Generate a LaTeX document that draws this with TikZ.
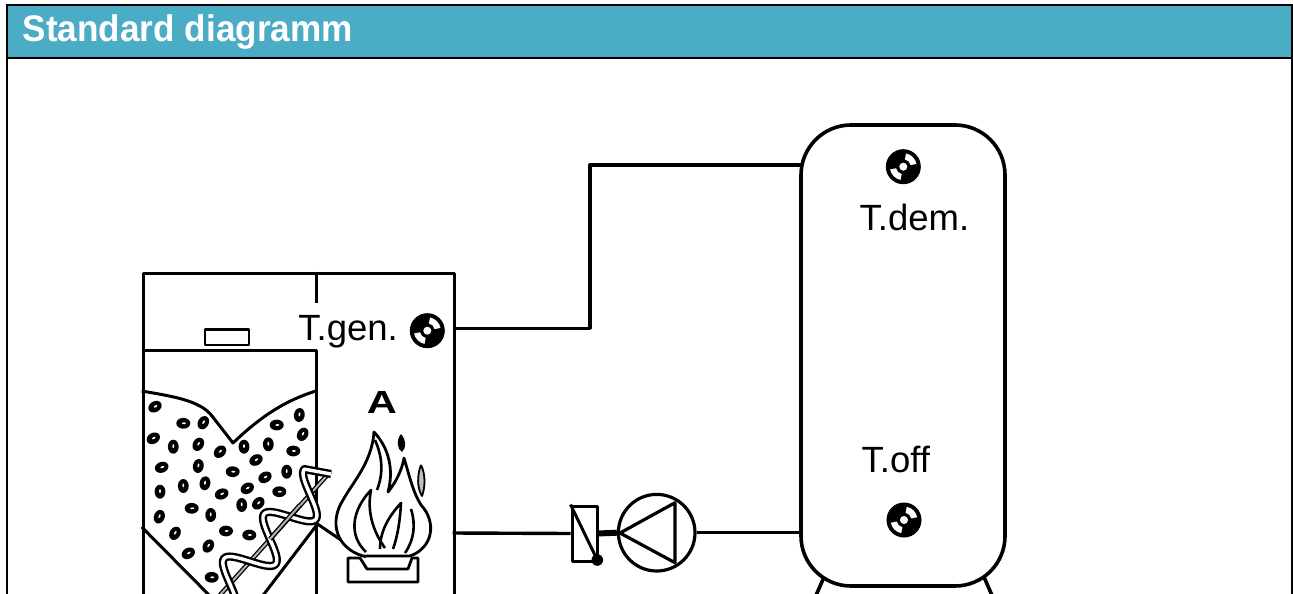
\documentclass[tikz,border=0pt]{standalone}
\usepackage{fontspec}
\setmainfont{Liberation Sans}
\usetikzlibrary{calc}
\definecolor{hdr}{HTML}{4BACC6}
\begin{document}
\begin{tikzpicture}[x=1pt,y=-1pt,line join=round,
  wall/.style={line width=3.6pt},
  inner/.style={line width=3pt},
  pipe/.style={line width=3.4pt},
  lbl/.style={font=\fontsize{36.5}{40}\selectfont, inner sep=0pt},
  sensor/.pic={
    \fill[black] (0,0) circle (17.5);
    \fill[white] (-78:7.5) arc[start angle=-78,end angle=-12,radius=7.5] -- (-12:13.5) arc[start angle=-12,end angle=-78,radius=13.5] -- cycle;
    \fill[white] (102:7.5) arc[start angle=102,end angle=168,radius=7.5] -- (168:13.5) arc[start angle=168,end angle=102,radius=13.5] -- cycle;
    \fill[white] (0,0) circle (4);
  },
  pellet/.pic={
    \fill[black] (0,0) ellipse[x radius=7pt, y radius=5.4pt];
    \fill[white] (0.6,0) ellipse[x radius=2pt, y radius=0.9pt];
  }]
\useasboundingbox (0,0) rectangle (1293,594);
\begin{scope}
\clip (0,0) rectangle (1293,594);
% frame and header
\fill[hdr] (7,5) rectangle (1292,58);
\draw[line width=2.4pt] (6,5) -- (1293,5);
\draw[line width=2.4pt] (6,58) -- (1293,58);
\draw[line width=2.4pt] (7,4) -- (7,600);
\draw[line width=2.4pt] (1292,4) -- (1292,600);
\node[anchor=base west, text=white, inner sep=0pt, font=\bfseries\fontsize{37}{40}\selectfont] (title) at (22.5,41.5) {\scalebox{0.95}[1]{Standard diagramm}};

% boiler
\node[draw, wall, minimum width=311pt, minimum height=368pt, anchor=north west, inner sep=0pt] (boiler) at (141.7,271.7) {};
\draw[inner] (316,271.7) -- (316,303);
\draw[inner] (141.7,350) -- (316,350) -- (316,600);
\draw[line width=2.6pt] (205,329.5) rectangle (249,345);
% pellet surface
\draw[inner] (141.7,391) .. controls (170,396) and (200,400) .. (212,416) -- (233,443) .. controls (255,422) and (280,402) .. (316,391);
% hopper slopes
\draw[inner] (141.7,527) -- (212,598);
\draw[inner] (316,526) -- (261,598);
\draw[inner] (316,523) -- (366,557);
% pellets
\foreach \px/\py/\pa in {155/406.7/30, 183.3/423.3/0, 203.3/422.7/60, 153.3/438.3/30, 173.3/446.7/90, 198.3/444.3/60, 220/451.7/45, 244/446.7/90, 268.3/444.3/90, 276.7/425/0, 299.3/415/80, 302.7/434.3/60, 293.3/451/0, 256/460/30, 161.7/467.3/20, 198.3/466/80, 232.7/471.7/0, 286.7/471.7/90, 265/477.3/30, 160/491.7/90, 183.3/486/90, 205/483.3/80, 221.7/494/20, 247.3/488.3/30, 279.3/491.7/0, 241.7/505/90, 258.3/503.3/45, 191.7/508.3/0, 210.7/515/90, 159.3/516.7/70, 226/531/0, 249.3/535/0, 208.3/546/60, 211.7/577.3/0, 175/533.3/60, 188.3/553.3/30}
  \pic[rotate=\pa] at (\px,\py) {pellet};
% auger shaft
\draw[line width=1.3pt, double=gray!60, double distance=2pt] (330,472) -- (212,604);
% auger helix
\draw[line width=2.4pt, double=white, double distance=3.4pt] (331,474) -- plot[domain=15:185, samples=150, smooth] ({330-0.668*\x - 0.744*21*sin(6*\x)}, {472+0.744*\x - 0.668*21*sin(6*\x)});
\draw[line width=1.3pt, double=gray!60, double distance=2pt] (300,505) -- (270,539);

% burner
\node[font=\bfseries\fontsize{32}{34}\selectfont, inner sep=0pt] (A) at (382,402.5) {\scalebox{1.3}[1]{A}};
\draw[line width=2.8pt, fill=white] (363,556) .. controls (336,548) and (329,522) .. (343,500)
  .. controls (353,482) and (372,462) .. (374,432)
  .. controls (389,448) and (394,470) .. (388,492)
  .. controls (396,482) and (402,470) .. (404,458)
  .. controls (410,478) and (413,492) .. (421,505)
  .. controls (437,522) and (433,548) .. (410,556) -- cycle;
\draw[line width=2.6pt] (366,552) .. controls (348,535) and (352,510) .. (371,490) .. controls (367,510) and (372,530) .. (385,548);
\draw[line width=2.6pt] (380,549) .. controls (380,530) and (390,515) .. (401,503) .. controls (400,520) and (398,535) .. (393,549);
\draw[line width=2.6pt] (405,553) .. controls (414,540) and (416,525) .. (411,509);
\draw[line width=2.6pt] (375,440) .. controls (382,456) and (384,472) .. (377,490);
\fill (401,434) .. controls (406,440) and (407,447) .. (402,452) .. controls (397,449) and (396,440) .. (401,434);
\draw[line width=1.8pt, fill=gray!50] (421,465) .. controls (426,475) and (425,488) .. (422,496) .. controls (417,488) and (417,475) .. (421,465);
\draw[line width=2.8pt, fill=white] (348,558) -- (360,558) -- (367,569) -- (408,569) -- (412,558) -- (418,558) -- (418,582) -- (348,582) -- cycle;

% sensor T.gen
\pic at (427.3,330.7) {sensor};
\node[lbl, anchor=base east] (tgen) at (398,340) {T.gen.};

% tank
\node[draw, wall, rounded corners=50pt, minimum width=204pt, minimum height=461pt, inner sep=0pt] (tank) at (903,355.5) {};
\draw[wall] (824,577) -- (814,600);
\draw[wall] (984,577) -- (994,600);
\pic at (903.3,166.7) {sensor};
\node[lbl, anchor=base west] (tdem) at (859.5,230) {T.dem.};
\node[lbl, anchor=base west] (toff) at (861.5,472.7) {T.off};
\pic at (904,520) {sensor};

% pipes
\coordinate (gout) at (452.7,328.3);
\coordinate (tin) at (801,165);
\draw[pipe] (gout) -- (590,328.3) |- (tin);

\node[draw, line width=3pt, minimum width=25pt, minimum height=55pt, inner sep=0pt] (valve) at (584.5,533.5) {};
\draw[line width=3pt] (valve.north west) -- (valve.south east);
\fill (597.3,560) circle (5.8);
\node[draw, circle, line width=3.2pt, minimum size=76.6pt, inner sep=0pt] (pump) at (656.7,532.7) {};
\draw[line width=3.2pt] (675,502.7) -- (620,533) -- (675,562.7) -- cycle;
\coordinate (gret) at (452.7,533);
\draw[pipe] (gret) -- (valve.west);
\draw[line width=6pt] (valve.east) -- (pump.west);
\draw[pipe] (pump.east) -- (tank.west |- pump.east);
\end{scope}
\end{tikzpicture}
\end{document}
